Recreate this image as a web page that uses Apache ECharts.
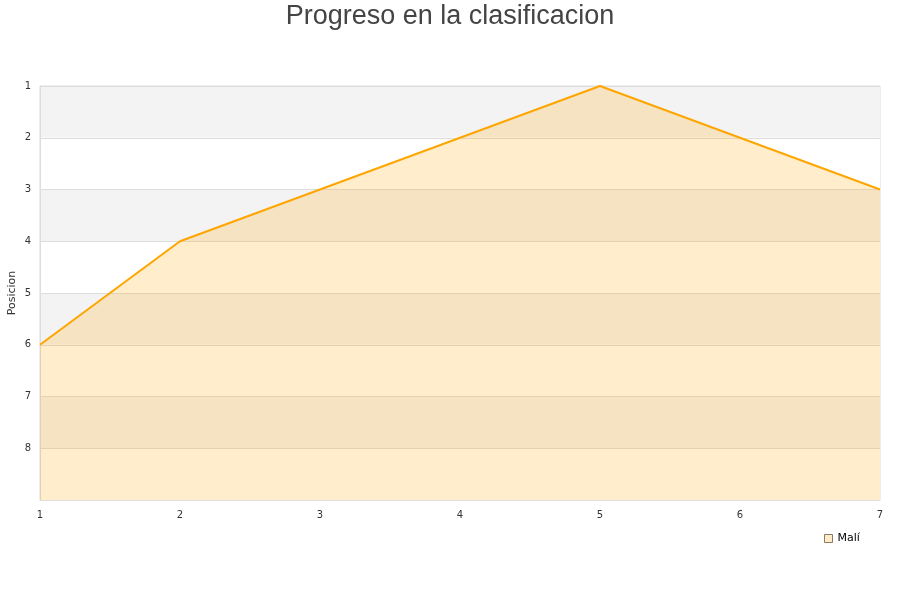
<!DOCTYPE html>
<html><head><meta charset="utf-8">
<script src="https://cdn.jsdelivr.net/npm/echarts@6/dist/echarts.min.js"></script>
<style>html,body{margin:0;padding:0;background:#fff}#c{width:900px;height:600px}</style>
</head><body><div id="c"></div>
<script>
const jornadas = [1, 2, 3, 4, 5, 6, 7];
const posiciones = [6, 4, 3, 2, 1, 2, 3];
const seriesName = 'Malí';
const titleText = 'Progreso en la clasificacion';
const yName = 'Posicion';

const chart = echarts.init(document.getElementById('c'));
chart.setOption({
  animation: false,
  title: {
    text: titleText, left: 'center', top: -2,
    textStyle: { fontFamily: 'Liberation Sans, Arial, sans-serif', fontSize: 27, fontWeight: 'normal', color: '#444' }
  },
  legend: {
    data: [{ name: seriesName, icon: 'rect', itemStyle: { color: '#FFEBC6', borderColor: '#8a7a66', borderWidth: 1 } }],
    left: 819, top: 528, itemWidth: 8, itemHeight: 8, itemGap: 8,
    textStyle: { fontFamily: 'DejaVu Sans', fontSize: 11, color: '#000' }
  },
  grid: { left: 40, right: 20, top: 86, bottom: 100, containLabel: false, outerBoundsMode: 'none', show: true, borderColor: '#ddd', borderWidth: 1, backgroundColor: 'transparent' },
  xAxis: {
    type: 'value', min: 1, max: 7, interval: 1,
    axisLine: { show: true, lineStyle: { color: '#ddd' } },
    axisTick: { show: false },
    splitLine: { show: false },
    axisLabel: { fontFamily: 'DejaVu Sans', fontSize: 10, color: '#333', margin: 10 }
  },
  yAxis: {
    type: 'value', inverse: true, min: 1, max: 9, interval: 1,
    name: yName, nameLocation: 'middle', nameGap: 22, nameMoveOverlap: false,
    nameTextStyle: { fontFamily: 'DejaVu Sans', fontSize: 11, color: '#333' },
    axisLine: { show: true, lineStyle: { color: '#ddd' } },
    axisTick: { show: false },
    axisLabel: { fontFamily: 'DejaVu Sans', fontSize: 10, color: '#333', margin: 9,
      formatter: v => (v === 9 ? '' : String(v)) },
    splitLine: { show: true, lineStyle: { color: '#ddd' } },
    splitArea: { show: true, areaStyle: { color: ['#f3f3f3', '#ffffff'] } }
  },
  series: [{
    name: seriesName, type: 'line',
    data: jornadas.map((j, i) => [j, posiciones[i]]),
    symbol: 'none',
    lineStyle: { color: '#FFA500', width: 2 },
    itemStyle: { color: '#FFA500' },
    areaStyle: { color: '#FFA500', opacity: 0.2, origin: 'end' }
  }]
});
</script></body></html>
